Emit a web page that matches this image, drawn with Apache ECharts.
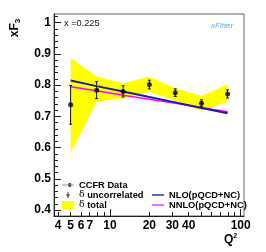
<!DOCTYPE html>
<html>
<head>
<meta charset="utf-8">
<script src="https://cdn.jsdelivr.net/npm/echarts@6/dist/echarts.min.js"></script>
<style>html,body{margin:0;padding:0;background:#fff;}#c{width:266px;height:252px;}</style>
</head>
<body>
<div id="c"></div>
<script>
// ---- data ----
const q2 = [5.0, 7.9, 12.6, 20.0, 31.6, 50.1, 79.4];
const xf3 = [0.737, 0.784, 0.780, 0.802, 0.776, 0.742, 0.772];
const errUncorr = [0.062, 0.027, 0.018, 0.014, 0.012, 0.011, 0.013];
const totalHi = [0.887, 0.828, 0.806, 0.828, 0.790, 0.766, 0.803];
const totalLo = [0.584, 0.747, 0.758, 0.779, 0.750, 0.718, 0.747];
const nlo = [0.815, 0.797, 0.780, 0.762, 0.745, 0.727, 0.710];
const nnlo = [0.795, 0.782, 0.768, 0.755, 0.742, 0.728, 0.715];
// ---- ticks ----
const xLabels = [4, 5, 6, 7, 10, 20, 30, 40, 100];
const xMajorTicks = [10, 100];
const xMinorTicks = [4, 5, 6, 7, 8, 9, 20, 30, 40, 50, 60, 70, 80, 90];
const yLabels = [0.4, 0.5, 0.6, 0.7, 0.8, 0.9, 1];
const yMinorTicks = [0.38, 0.42, 0.44, 0.46, 0.48, 0.52, 0.54, 0.56, 0.58, 0.62, 0.64, 0.66, 0.68, 0.72, 0.74, 0.76, 0.78, 0.82, 0.84, 0.86, 0.88, 0.92, 0.94, 0.96, 0.98, 1.02];

const FONT = 'Liberation Sans, Arial, Helvetica, sans-serif';
const chart = echarts.init(document.getElementById('c'), null, {renderer: 'canvas'});

const xCommon = {type: 'log', logBase: 10, min: 3.73, max: 106, position: 'bottom', splitLine: {show: false}, minorTick: {show: false}};
const yCommon = {type: 'value', min: 0.381, max: 1.028, position: 'left', splitLine: {show: false}, minorTick: {show: false}};

chart.setOption({
  animation: false,
  grid: {left: 54, top: 14, right: 22, bottom: 36, show: true, borderColor: '#666', borderWidth: 1, backgroundColor: 'transparent'},
  xAxis: [
    Object.assign({}, xCommon, {
      axisLine: {show: true, lineStyle: {color: '#222', width: 1}},
      axisTick: {show: true, inside: true, length: 7, customValues: xMajorTicks, lineStyle: {color: '#222'}},
      axisLabel: {show: true, customValues: xLabels, margin: 4, color: '#000', fontSize: 12, fontWeight: 'bold', fontFamily: FONT}
    }),
    Object.assign({}, xCommon, {
      axisLine: {show: false},
      axisTick: {show: true, inside: true, length: 4, customValues: xMinorTicks, lineStyle: {color: '#222'}},
      axisLabel: {show: false}
    })
  ],
  yAxis: [
    Object.assign({}, yCommon, {
      axisLine: {show: true, lineStyle: {color: '#222', width: 1}},
      axisTick: {show: true, inside: true, length: 7, customValues: yLabels, lineStyle: {color: '#222'}},
      axisLabel: {show: true, customValues: yLabels, margin: 3, color: '#000', fontSize: 12, fontWeight: 'bold', fontFamily: FONT}
    }),
    Object.assign({}, yCommon, {
      axisLine: {show: false},
      axisTick: {show: true, inside: true, length: 4, customValues: yMinorTicks, lineStyle: {color: '#222'}},
      axisLabel: {show: false}
    })
  ],
  legend: [
    {
      orient: 'vertical', left: 62, top: 180, itemWidth: 12, itemHeight: 8, itemGap: 0, padding: 0,
      selectedMode: false, symbolKeepAspect: true,
      textStyle: {fontSize: 9.3, fontWeight: 'bold', fontFamily: FONT, color: '#000', lineHeight: 10,
        rich: {d: {fontFamily: 'DejaVu Serif, Liberation Serif, serif', fontSize: 9.3, fontWeight: 'normal', lineHeight: 10}}},
      formatter: function (n) { return n.charAt(0) === 'δ' ? '{d|δ}' + n.slice(1) : n; },
      data: [
        {name: 'CCFR Data', icon: 'path://M0,3.6h14v0.8h-14z M9,4m-2.2,0a2.2,2.2 0 1,0 4.4,0a2.2,2.2 0 1,0 -4.4,0z'},
        {name: 'δ uncorrelated', icon: 'path://M6.6,0.5h0.8v7h-0.8z M7,4m-1.8,0a1.8,1.8 0 1,0 3.6,0a1.8,1.8 0 1,0 -3.6,0z M0,0h0.01v8h-0.01z M14,0h0.01v8h-0.01z'},
        {name: 'δ total', icon: 'rect'}
      ]
    },
    {
      orient: 'vertical', left: 152, top: 190, itemWidth: 12, itemHeight: 8, itemGap: 0, padding: 0,
      selectedMode: false, symbolKeepAspect: true,
      textStyle: {fontSize: 9.3, fontWeight: 'bold', fontFamily: FONT, color: '#000', lineHeight: 10},
      data: [
        {name: 'NLO(pQCD+NC)', icon: 'path://M0,0h14v1.6h-14z'},
        {name: 'NNLO(pQCD+NC)', icon: 'path://M0,0h14v1.4h-14z'}
      ]
    }
  ],
  graphic: [
    {type: 'text', left: 64, top: 19, style: {text: 'x =0.225', fontSize: 9.2, fontFamily: FONT, fill: '#111'}},
    {type: 'text', left: 211, top: 22, style: {text: 'xFitter', fontSize: 8, fontStyle: 'italic', fontFamily: FONT, fill: '#5ab0e6'}},
    {type: 'text', x: 15, y: 28, rotation: Math.PI / 2,
      style: {text: 'xF{s|3}', fontSize: 12, fontWeight: 'bold', fontFamily: FONT, fill: '#000', align: 'center', verticalAlign: 'middle',
        rich: {s: {fontSize: 8, fontWeight: 'bold', fontFamily: FONT, padding: [6, 0, 0, 0]}}}},
    {type: 'text', left: 224, top: 233,
      style: {text: 'Q{s|2}', fontSize: 12, fontWeight: 'bold', fontFamily: FONT, fill: '#000',
        rich: {s: {fontSize: 7, fontWeight: 'bold', fontFamily: FONT, padding: [0, 0, 7, 0]}}}}
  ],
  series: [
    {
      name: 'δ total', type: 'custom', xAxisIndex: 0, yAxisIndex: 0, z: 1,
      itemStyle: {color: '#ffff00'},
      data: q2.map(function (q, i) { return [q, totalHi[i]]; }),
      renderItem: function (params, api) {
        if (params.dataIndex !== 0) return null;
        const pts = [];
        for (let i = 0; i < q2.length; i++) pts.push(api.coord([q2[i], totalHi[i]]));
        for (let i = q2.length - 1; i >= 0; i--) pts.push(api.coord([q2[i], totalLo[i]]));
        return {type: 'polygon', shape: {points: pts}, style: {fill: '#ffff00'}};
      }
    },
    {
      name: 'NNLO(pQCD+NC)', type: 'line', xAxisIndex: 0, yAxisIndex: 0, z: 3, showSymbol: false, symbol: 'none',
      itemStyle: {color: '#ff00ff'}, lineStyle: {color: '#ff00ff', width: 1.6},
      data: q2.map(function (q, i) { return [q, nnlo[i]]; })
    },
    {
      name: 'NLO(pQCD+NC)', type: 'line', xAxisIndex: 0, yAxisIndex: 0, z: 4, showSymbol: false, symbol: 'none',
      itemStyle: {color: '#1c1ca8'}, lineStyle: {color: '#1c1ca8', width: 2},
      data: q2.map(function (q, i) { return [q, nlo[i]]; })
    },
    {
      name: 'δ uncorrelated', type: 'custom', xAxisIndex: 0, yAxisIndex: 0, z: 5,
      itemStyle: {color: '#000'},
      data: q2.map(function (q, i) { return [q, xf3[i] - errUncorr[i], xf3[i] + errUncorr[i]]; }),
      renderItem: function (params, api) {
        const lo = api.coord([api.value(0), api.value(1)]);
        const hi = api.coord([api.value(0), api.value(2)]);
        const st = {stroke: '#111', lineWidth: 1};
        return {type: 'group', children: [
          {type: 'line', shape: {x1: lo[0], y1: lo[1], x2: hi[0], y2: hi[1]}, style: st},
          {type: 'line', shape: {x1: lo[0] - 1.5, y1: lo[1], x2: lo[0] + 1.5, y2: lo[1]}, style: st},
          {type: 'line', shape: {x1: hi[0] - 1.5, y1: hi[1], x2: hi[0] + 1.5, y2: hi[1]}, style: st}
        ]};
      }
    },
    {
      name: 'CCFR Data', type: 'scatter', xAxisIndex: 0, yAxisIndex: 0, z: 6,
      symbol: 'circle', symbolSize: 5, itemStyle: {color: '#000'},
      data: q2.map(function (q, i) { return [q, xf3[i]]; })
    }
  ]
});
</script>
</body>
</html>
